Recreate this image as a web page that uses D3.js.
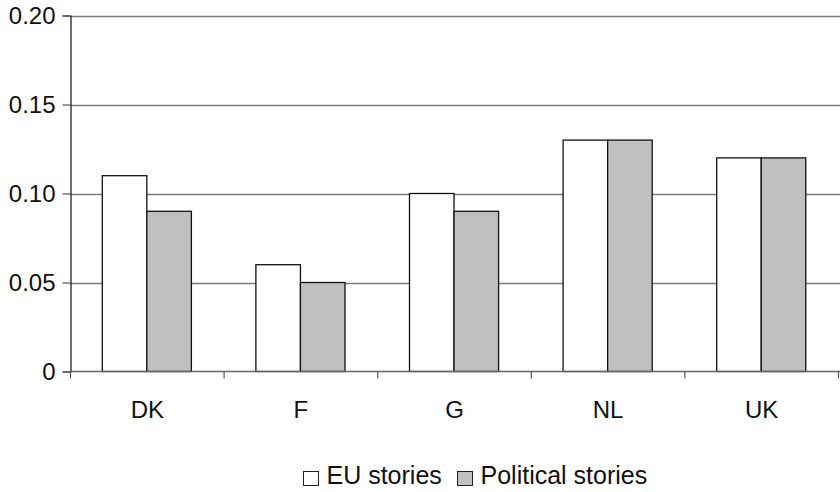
<!DOCTYPE html>
<html>
<head>
<meta charset="utf-8">
<script src="https://cdn.jsdelivr.net/npm/d3@7"></script>
<style>
  html, body { margin: 0; padding: 0; background: #fff; }
  text { font-family: "Liberation Sans", Arial, Helvetica, sans-serif; fill: #111; }
</style>
</head>
<body>
<svg id="chart" width="840" height="492"></svg>
<script>
// Share of stories per country
const countries = ["DK", "F", "G", "NL", "UK"];
const euStories = [0.11, 0.06, 0.10, 0.13, 0.12];
const politicalStories = [0.09, 0.05, 0.09, 0.13, 0.12];
const seriesNames = ["EU stories", "Political stories"];
const yTicks = [0, 0.05, 0.10, 0.15, 0.20];
const yTickLabels = ["0", "0.05", "0.10", "0.15", "0.20"];

const svg = d3.select("#chart");
const plotLeft = 70.5, plotRight = 838.5, plotTop = 15.5, plotBottom = 371.5;
const fontSize = 24;

const x = d3.scaleBand().domain(countries).range([plotLeft, plotRight]).padding(0);
const inner = d3.scaleBand().domain(seriesNames)
  .range([x.bandwidth() * 0.207, x.bandwidth() * 0.787]).padding(0);
const y = d3.scaleLinear().domain([0, 0.20]).range([plotBottom, plotTop]);

// horizontal gridlines
svg.append("g").selectAll("line").data(yTicks.slice(1)).join("line")
  .attr("x1", plotLeft).attr("x2", 840)
  .attr("y1", d => Math.round(y(d)) + 0.5).attr("y2", d => Math.round(y(d)) + 0.5)
  .attr("stroke", "#7a7a7a").attr("stroke-width", 1.4);

// bars
const rows = countries.map((c, i) => ({ c, vals: [euStories[i], politicalStories[i]] }));
const fills = ["#ffffff", "#c0c0c0"];
const groups = svg.append("g").selectAll("g").data(rows).join("g")
  .attr("transform", d => `translate(${x(d.c)},0)`);
groups.selectAll("rect").data(d => d.vals.map((v, k) => ({ v, k }))).join("rect")
  .attr("x", d => inner(seriesNames[d.k]))
  .attr("width", inner.bandwidth())
  .attr("y", d => y(d.v))
  .attr("height", d => plotBottom - y(d.v))
  .attr("fill", d => fills[d.k])
  .attr("stroke", "#111").attr("stroke-width", 1.3);

// y axis
const yAxis = d3.axisLeft(y).tickValues(yTicks)
  .tickFormat((d, i) => yTickLabels[i]).tickSize(8).tickPadding(7);
const gy = svg.append("g").attr("transform", `translate(${plotLeft},0)`).call(yAxis);
gy.select(".domain").attr("stroke", "#111").attr("stroke-width", 1.2);
gy.selectAll(".tick line").attr("stroke", "#555").attr("stroke-width", 1.2);
gy.selectAll("text").attr("font-size", fontSize)
  .style("font-family", "'Liberation Sans', Arial, sans-serif").attr("fill", "#111");

// x axis baseline with boundary ticks
const gx = svg.append("g");
gx.append("line").attr("x1", plotLeft).attr("x2", 840).attr("y1", plotBottom).attr("y2", plotBottom)
  .attr("stroke", "#666").attr("stroke-width", 1.3);
const bounds = countries.map(c => x(c)).concat([x(countries[countries.length - 1]) + x.bandwidth()]);
gx.selectAll("line.tk").data(bounds).join("line").attr("class", "tk")
  .attr("x1", d => d).attr("x2", d => d).attr("y1", plotBottom).attr("y2", plotBottom + 7)
  .attr("stroke", "#555").attr("stroke-width", 1.2);
gx.selectAll("text").data(countries).join("text")
  .attr("x", d => x(d) + x.bandwidth() / 2).attr("y", 418)
  .attr("text-anchor", "middle").attr("font-size", fontSize).text(d => d);

// legend
const legend = svg.append("g");
const items = [
  { name: seriesNames[0], fill: fills[0], x: 303.5 },
  { name: seriesNames[1], fill: fills[1], x: 457.5 }
];
items.forEach(it => {
  legend.append("rect").attr("x", it.x).attr("y", 471.5).attr("width", 15).attr("height", 14)
    .attr("fill", it.fill).attr("stroke", "#222").attr("stroke-width", 1);
  legend.append("text").attr("x", it.x + 23).attr("y", 484).attr("font-size", 25).text(it.name);
});
</script>
</body>
</html>
